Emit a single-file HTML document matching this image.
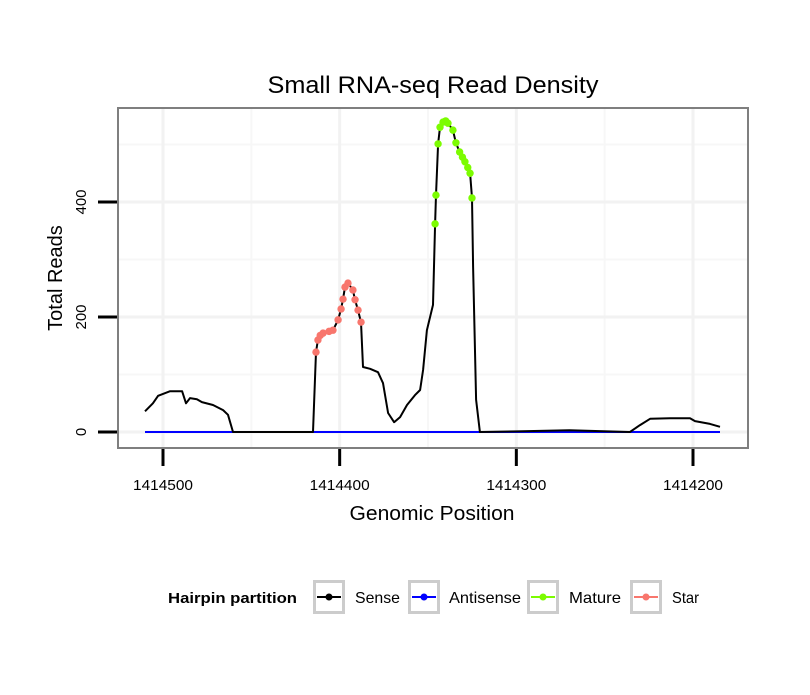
<!DOCTYPE html>
<html><head><meta charset="utf-8"><style>
body{margin:0;background:#fff;font-family:"Liberation Sans",sans-serif}
svg text{font-family:"Liberation Sans",sans-serif}
</style></head><body>
<svg width="810" height="690" id="c">
<rect x="0" y="0" width="810" height="690" fill="#fff"/>
<text x="433" y="93" font-size="24" text-anchor="middle" textLength="331" lengthAdjust="spacingAndGlyphs">Small RNA-seq Read Density</text>
<text x="432" y="520" font-size="20" text-anchor="middle" textLength="165" lengthAdjust="spacingAndGlyphs">Genomic Position</text>
<text transform="translate(62,278) rotate(-90)" font-size="20" text-anchor="middle">Total Reads</text>
<g id="grid"></g><g id="axes"></g><g id="marks"></g>
<rect x="118" y="108" width="630" height="340" fill="none" stroke="#7f7f7f" stroke-width="2"/>
<g>
<text x="168" y="603" font-size="15" font-weight="bold" textLength="129" lengthAdjust="spacingAndGlyphs">Hairpin partition</text>
<g id="leg"></g>
</g>
</svg>
<script>
const sensePos=[510.2,505.7,502.8,496,491.5,489.2,487,484.7,480.8,478,471.7,466,463.2,460.4,415.1,413.4,412.3,409.4,403.8,400.9,399.2,398.1,397,395.3,392.5,391.3,389.6,387.9,386.8,382.8,378.3,375.5,372.6,369.2,365.8,361.9,357.4,354.5,352.8,350.6,347.2,346.0,345.5,344.3,343.2,341.5,338.7,335.9,334.2,332.1,329.1,326.2,325.1,324.5,322.8,320.6,300,270,235.7,230,224.3,213,201.7,198.9,190.4,184.7];
const senseVal=[36,50,63,71,71,71,50,59,57,52,47,38,30,0,0,139,160,172,177,195,214,231,252,259,247,230,212,191,113,110,104,85,33,17,26,47,64,73,108,177,221,362,412,501,530,539,537,525,503,487,470,450,407,287,56,0,1,3,0,12,23,24,24,19,14,9];
const antiPos=[510.2,184.7];
const antiVal=[0,0];
const starPos=[413.4,412.3,411,409.4,406,403.8,400.9,399.2,398.1,397,395.3,392.5,391.3,389.6,387.9];
const starVal=[139,160,168,172,175,177,195,214,231,252,259,247,230,212,191];
const maturePos=[346.0,345.5,344.3,343.2,341.5,340,338.7,335.9,334.2,332.1,330.5,329.1,327.5,326.2,325.1];
const matureVal=[362,412,501,530,539,541,537,525,503,487,478,470,460,450,407];
const xTicks=[1414500,1414400,1414300,1414200];
const xMinor=[1414450,1414350,1414250];
const yTicks=[0,200,400];
const yMinor=[100,300,500];
const X=p=>163+(1414500-(p<1e6?1414000+p:p))*1.7667;
const Y=v=>432-v*0.575;
const NS="http://www.w3.org/2000/svg";
function mk(t,a,parent){const e=document.createElementNS(NS,t);for(const k in a)e.setAttribute(k,a[k]);parent.appendChild(e);return e;}
const grid=document.getElementById('grid'),axes=document.getElementById('axes'),marks=document.getElementById('marks'),leg=document.getElementById('leg');
xMinor.forEach(t=>{const l=mk('line',{x1:X(t),x2:X(t),y1:108,y2:448,stroke:'#f7f7f7','stroke-width':2},grid);

});
yMinor.forEach(t=>{const l=mk('line',{x1:118,x2:748,y1:Y(t),y2:Y(t),stroke:'#f7f7f7','stroke-width':2},grid);

});
xTicks.forEach(t=>{const l=mk('line',{x1:X(t),x2:X(t),y1:108,y2:448,stroke:'#f2f2f2','stroke-width':3},grid);


const tk=mk('line',{x1:X(t),x2:X(t),y1:449,y2:466,stroke:'#000','stroke-width':3},axes);


const tx=mk('text',{x:X(t),y:490,'font-size':15,'text-anchor':'middle',textLength:60,lengthAdjust:'spacingAndGlyphs'},axes);tx.textContent=t;

});
yTicks.forEach(t=>{const l=mk('line',{x1:118,x2:748,y1:Y(t),y2:Y(t),stroke:'#f2f2f2','stroke-width':3},grid);


const tk=mk('line',{x1:98,x2:117,y1:Y(t),y2:Y(t),stroke:'#000','stroke-width':3},axes);


const tx=mk('text',{transform:`translate(86,${Y(t)}) rotate(-90)`,'font-size':15,'text-anchor':'middle'},axes);tx.textContent=t;

});
function line(P,V,c,name){const d=P.map((p,i)=>(i?'L':'M')+X(p).toFixed(1)+','+Y(V[i]).toFixed(1)).join('');
const e=mk('path',{d,fill:'none',stroke:c,'stroke-width':2,'stroke-linejoin':'round'},marks);

}
line(antiPos,antiVal,'#0000ff','antisense-line');
line(sensePos,senseVal,'#000','sense-line');
function pts(P,V,c,name){P.forEach((p,i)=>{const e=mk('circle',{cx:X(p),cy:Y(V[i]),r:3.7,fill:c},marks);

});}
pts(starPos,starVal,'#f8766d','star-point');
pts(maturePos,matureVal,'#7cfc00','mature-point');
const L=[['Sense','#000',313,355,45],['Antisense','#0000ff',408,449,72],['Mature','#7cfc00',527,569,52],['Star','#f8766d',630,672,27]];
L.forEach(([n,c,bx,tx,w])=>{const g=mk('g',{},leg);


mk('rect',{x:bx+1.5,y:581.5,width:29,height:31,fill:'#fff',stroke:'#cccccc','stroke-width':3},g);
mk('line',{x1:bx+4,x2:bx+28,y1:597,y2:597,stroke:c,'stroke-width':2},g);
mk('circle',{cx:bx+16,cy:597,r:3.5,fill:c},g);
const t=mk('text',{x:tx,y:603,'font-size':16,textLength:w,lengthAdjust:'spacingAndGlyphs'},g);t.textContent=n;});
</script>
</body></html>
